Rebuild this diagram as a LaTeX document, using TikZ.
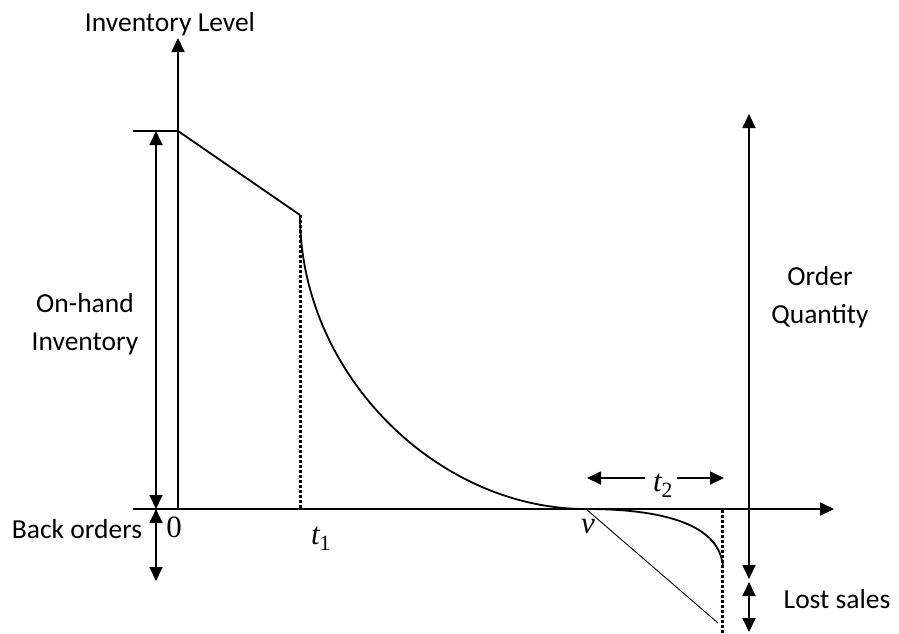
\documentclass[tikz,border=0pt]{standalone}
\usepackage{fontspec}
\setmainfont{Carlito}
\newfontfamily\tms{Liberation Serif}
\usetikzlibrary{arrows.meta}
\begin{document}
\begin{tikzpicture}[x=1pt,y=-1pt,
  lbl/.style={font=\fontsize{27.5}{38}\selectfont, align=center, inner sep=0pt},
  mth/.style={font=\tms\fontsize{31}{33}\selectfont\itshape, inner sep=0pt},
  ln/.style={line width=1.8pt},
  thin/.style={line width=0.9pt},
  tip/.style={-{Triangle[length=14pt,width=13pt]}},
  dtip/.style={{Triangle[length=14pt,width=13pt]}-{Triangle[length=14pt,width=13pt]}},
  dots/.style={line width=3pt, dash pattern=on 2.6pt off 2.4pt}]
\useasboundingbox (0,0) rectangle (899,633);
% coordinates
\coordinate (O) at (178,509);
\coordinate (Ytop) at (178,38);
\coordinate (Xs) at (133,509);
\coordinate (Xend) at (834,509);
\coordinate (Ls) at (133,131);
\coordinate (Q) at (178,131);
\coordinate (A) at (300,215);
\coordinate (A0) at (300,509);
\coordinate (V) at (586,509);
\coordinate (E) at (723,568);
\coordinate (D0) at (722,510);
\coordinate (Dend) at (722,633);
\coordinate (T) at (718,623);
\coordinate (OHt) at (156,131);
\coordinate (OHb) at (156,509);
\coordinate (BOb) at (156,581);
\coordinate (OQt) at (749,114);
\coordinate (OQb) at (749,579);
\coordinate (LSt) at (749,582);
\coordinate (LSb) at (749,632);
\coordinate (T2l) at (587,478);
\coordinate (T2a) at (645,478);
\coordinate (T2b) at (677,478);
\coordinate (T2r) at (724,478);
% axes
\draw[ln,tip] (O) -- (Ytop);
\draw[ln,tip] (Xs) -- (Xend);
\draw[ln] (Ls) -- (Q);
% inventory curve
\draw[ln] (Q) -- (A);
\draw[dots] (A) -- (A0);
\draw[ln] (A) .. controls (300,374) and (437,509) .. (V);
\draw[ln] (V) .. controls (665,509) and (721,525) .. (E);
\draw[thin] (V) -- (T);
\draw[dots] (D0) -- (Dend);
% dimension arrows
\draw[ln,dtip] (OHt) -- (OHb);
\draw[ln,dtip] (OHb) -- (BOb);
\draw[ln,dtip] (OQt) -- (OQb);
\draw[ln,dtip] (LSt) -- (LSb);
\draw[ln,tip] (T2a) -- (T2l);
\draw[ln,tip] (T2b) -- (T2r);
% labels
\node[lbl,anchor=base] (invlevel) at (170,31) {Inventory Level};
\node[lbl] (onhand) at (85,324) {On-hand\\Inventory};
\node[lbl] (orderq) at (820,297) {Order\\Quantity};
\node[lbl,anchor=base] (back) at (77,538) {Back orders};
\node[lbl,anchor=base] (lost) at (837,608) {Lost sales};
\node[mth,font=\tms\fontsize{31}{33}\selectfont] (zero) at (174,527) {0};
\node[mth] (t1) at (321,539) {t\textsubscript{\upshape 1}};
\node[mth] (v) at (588,527) {v};
\node[mth] (t2) at (663,486) {t\textsubscript{\upshape 2}};
\end{tikzpicture}
\end{document}
